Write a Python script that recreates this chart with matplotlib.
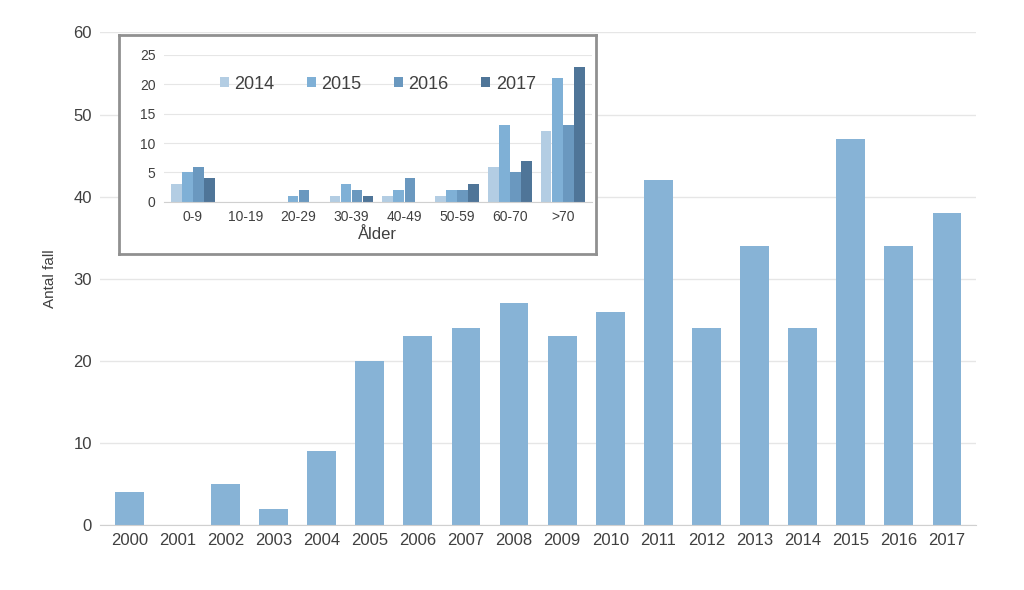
import matplotlib.pyplot as plt
import numpy as np

plt.rcParams["font.family"] = "Liberation Sans"

years = [str(y) for y in range(2000, 2018)]
cases = [4, 0, 5, 2, 9, 20, 23, 24, 27, 23, 26, 42, 24, 34, 24, 47, 34, 38]

age_groups = ["0-9", "10-19", "20-29", "30-39", "40-49", "50-59", "60-70", ">70"]
inset_years = ["2014", "2015", "2016", "2017"]
age_2014 = [3, 0, 0, 1, 1, 1, 6, 12]
age_2015 = [5, 0, 1, 3, 2, 2, 13, 21]
age_2016 = [6, 0, 2, 2, 4, 2, 5, 13]
age_2017 = [4, 0, 0, 1, 0, 3, 7, 23]
inset_colors = ["#b3cde3", "#7fb0d6", "#6a98bf", "#4f7598"]

fig = plt.figure(figsize=(10.24, 5.9), dpi=100)
ax = fig.add_axes([0.098, 0.11, 0.855, 0.835])
x = np.arange(len(years))
ax.bar(x, cases, width=0.6, color="#87b3d6", zorder=2)
ax.set_xticks(x, years)
ax.set_xlim(-0.6, len(years) - 0.4)
ax.set_ylim(0, 60)
ax.set_yticks(range(0, 61, 10))
ax.grid(axis="y", color="#e6e6e6", linewidth=1, zorder=0)
for s in ["top", "right", "left"]:
    ax.spines[s].set_visible(False)
ax.spines["bottom"].set_color("#d0d0d0")
ax.tick_params(length=0, labelsize=12, colors="#404040", pad=6)
ax.set_ylabel("Antal fall", fontsize=11, color="#404040", labelpad=12)

# white frame around inset
frame = fig.add_axes([0.116, 0.57, 0.466, 0.37])
frame.set_xticks([]); frame.set_yticks([])
frame.set_facecolor("white")
for s in frame.spines.values():
    s.set_color("#909090"); s.set_linewidth(2)

inset = fig.add_axes([0.16, 0.658, 0.418, 0.249])
inset.patch.set_alpha(0)
inset.set_zorder(frame.get_zorder() + 1)

xi = np.arange(len(age_groups))
w = 0.21
series = [age_2014, age_2015, age_2016, age_2017]
for i, (vals, lab) in enumerate(zip(series, inset_years)):
    inset.bar(xi + (i - 1.5) * w, vals, width=w * 0.95, color=inset_colors[i], label=lab, zorder=2)
inset.set_xticks(xi, age_groups)
inset.set_xlim(-0.55, len(age_groups) - 0.45)
inset.set_ylim(0, 25)
inset.set_yticks(range(0, 26, 5))
inset.grid(axis="y", color="#e6e6e6", zorder=0)
for s in ["top", "right", "left"]:
    inset.spines[s].set_visible(False)
inset.spines["bottom"].set_color("#d0d0d0")
inset.tick_params(length=0, labelsize=10, colors="#404040", pad=6)
inset.set_xlabel("Ålder", fontsize=12, color="#404040", labelpad=2)
inset.legend(loc="upper center", bbox_to_anchor=(0.5, 0.97), ncol=4, frameon=False,
             fontsize=13, handlelength=0.5, handleheight=0.5, columnspacing=1.8,
             handletextpad=0.3, labelcolor="#404040")

fig.savefig("out.png", dpi=100)
